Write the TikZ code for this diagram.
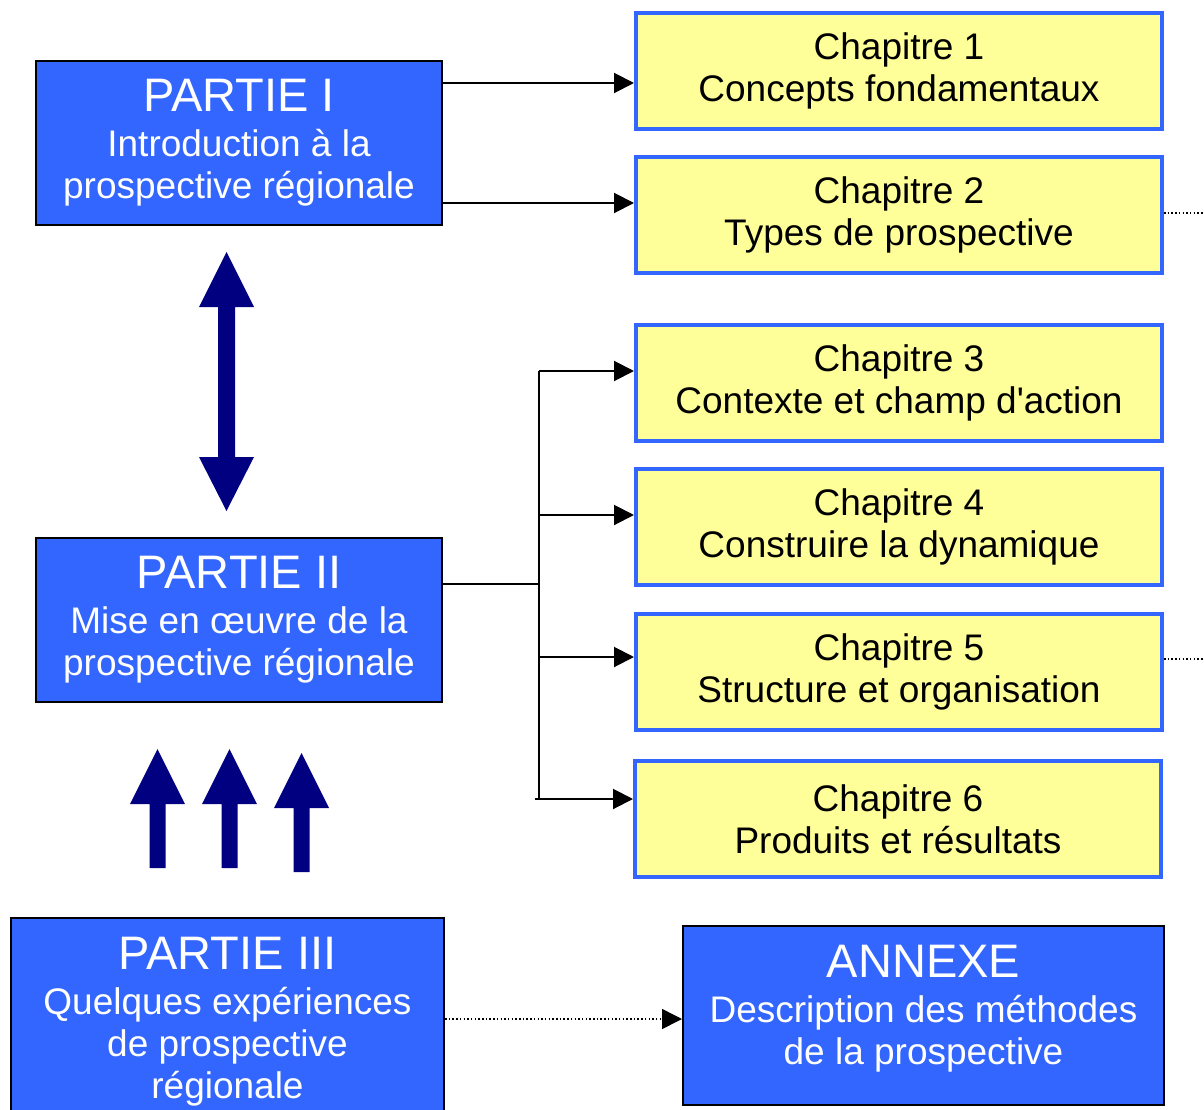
\documentclass[tikz,border=0pt]{standalone}
\usepackage{fontspec}
\setmainfont{Liberation Sans}
\usetikzlibrary{arrows.meta}
\definecolor{partblue}{HTML}{3366FF}
\definecolor{chapyellow}{HTML}{FFFF99}
\definecolor{navyarrow}{HTML}{000080}
\newcommand\ptitle[1]{{\fontsize{47}{52}\selectfont #1}}
\begin{document}
\begin{tikzpicture}[x=1pt,y=-1pt,
  partbox/.style={draw=black, line width=2pt, fill=partblue, text=white,
    align=center, inner sep=0pt, font=\fontsize{37}{42}\selectfont},
  chapbox/.style={draw=partblue, line width=4pt, fill=chapyellow, text=black,
    align=center, inner sep=0pt, minimum width=526pt, minimum height=116pt,
    font=\fontsize{37}{42}\selectfont},
  conn/.style={line width=2pt, -{Triangle[length=20pt,width=20pt]}},
  plainline/.style={line width=2pt},
  dotline/.style={line width=1.5pt, dash pattern=on 1.5pt off 2.2pt},
  uparrowshape/.pic={\fill[navyarrow] (-8,0) -- (-8,-64) -- (-27.5,-64) -- (0,-119)
    -- (27.5,-64) -- (8,-64) -- (8,0) -- cycle;}
]
\useasboundingbox (0,0) rectangle (1204,1110);
\clip (0,0) rectangle (1204,1110);

% Parts
\node[partbox, minimum width=406pt, minimum height=164pt] (p1) at (239,143)
  {\ptitle{PARTIE I}\\[3pt]Introduction à la\\prospective régionale};
\node[partbox, minimum width=406pt, minimum height=164pt] (p2) at (239,620)
  {\ptitle{PARTIE II}\\[3pt]Mise en œuvre de la\\prospective régionale};
\node[partbox, minimum width=433pt, minimum height=208pt] (p3) at (227.5,1022)
  {\ptitle{PARTIE III}\\[3pt]Quelques expériences\\de prospective\\régionale};
\node[partbox, minimum width=481pt, minimum height=179pt, text depth=22pt] (an) at (923.5,1015.5)
  {\ptitle{ANNEXE}\\[3pt]Description des méthodes\\de la prospective};

% Chapters
\node[chapbox] (c1) at (899,71) {Chapitre 1\\Concepts fondamentaux};
\node[chapbox] (c2) at (899,215) {Chapitre 2\\Types de prospective};
\node[chapbox] (c3) at (899,383) {Chapitre 3\\Contexte et champ d\textquotesingle action};
\node[chapbox] (c4) at (899,527) {Chapitre 4\\Construire la dynamique};
\node[chapbox] (c5) at (899,671.5) {Chapitre 5\\Structure et organisation};
\node[chapbox] (c6) at (898,819) {Chapitre 6\\Produits et résultats};

% Part I to chapters 1 and 2
\coordinate (y1) at (0,83);
\coordinate (y2) at (0,203);
\draw[conn] (p1.east |- y1) -- (c1.west |- y1);
\draw[conn] (p1.east |- y2) -- (c2.west |- y2);

% Part II fan-out to chapters 3 to 6
\coordinate (j) at (539,584);
\coordinate (jt) at (539,371);
\coordinate (k4) at (539,515);
\coordinate (k5) at (539,657);
\coordinate (jb0) at (539,799);
\coordinate (jb) at (535,799);
\draw[plainline] (p2.east |- j) -- (j);
\draw[plainline] (jt) -- (jb0);
\draw[conn] (jt) -- (c3.west |- jt);
\draw[conn] (k4) -- (c4.west |- k4);
\draw[conn] (k5) -- (c5.west |- k5);
\draw[conn] (jb) -- (c6.west |- jb);

% Dotted leaders
\coordinate (e2) at (1204,213);
\coordinate (e5) at (1204,659);
\draw[dotline] (c2.east |- e2) -- (e2);
\draw[dotline] (c5.east |- e5) -- (e5);
\coordinate (y3) at (0,1019);
\draw[dotline, -{Triangle[length=20pt,width=20pt]}] (p3.east |- y3) -- (an.west |- y3);

% Block arrows
\fill[navyarrow] (218,307) -- (199,307) -- (226.5,252) -- (254,307) -- (235,307)
  -- (235,457) -- (254,457) -- (226.5,511) -- (199,457) -- (218,457) -- cycle;
\pic at (157.5,868) {uparrowshape};
\pic at (229.5,868) {uparrowshape};
\pic at (301.5,872) {uparrowshape};
\end{tikzpicture}
\end{document}
